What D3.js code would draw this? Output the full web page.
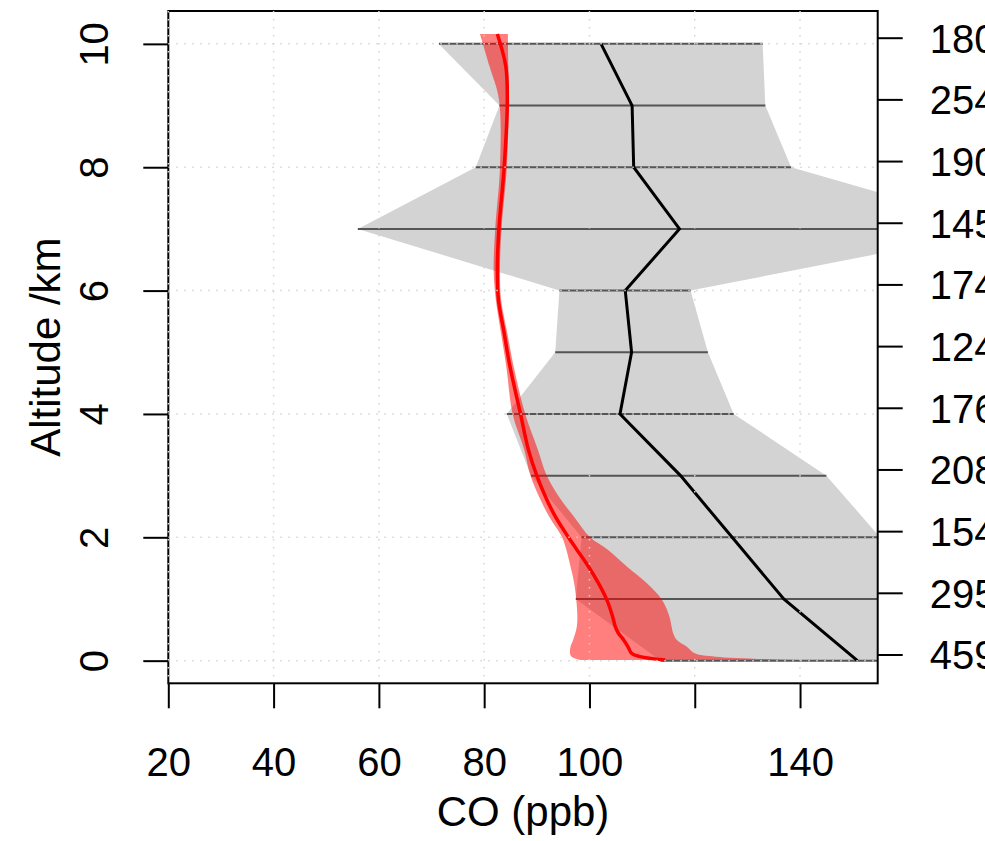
<!DOCTYPE html>
<html>
<head>
<meta charset="utf-8">
<script src="https://cdn.jsdelivr.net/npm/d3@7"></script>
<style>
html,body{margin:0;padding:0;background:#fff;}
svg{display:block;font-family:"Liberation Sans",Arial,Helvetica,sans-serif;}
</style>
</head>
<body>
<svg id="chart" width="985" height="841"></svg>
<script>
// ---- data ----
const altitudes = [0,1,2,3,4,5,6,7,8,9,10];
const sampleCounts = [459,295,154,208,176,124,174,145,190,254,180];
const grayLo = [113.5,97.4,98.5,88.9,84.3,93.5,94.3,56.0,78.4,82.9,71.4];
const grayHi = [185,175,155.2,145.0,127.4,122.5,119.2,179,138.3,133.4,132.9];
const blackMid = [150.9,136.9,127.1,117.3,105.8,108.0,106.8,117.1,108.4,108.1,102.2];

const redAlt = [0.01,0.065,0.12,0.227,0.336,0.445,0.552,0.714,0.985,1.256,1.526,1.8,2.0,2.34,2.61,3.0,3.42,4.0,4.77,5.31,5.86,6.34,7.0,8.0,9.1,9.64,10.16];
const redMid = [114.4,109.6,108.0,107.3,106.5,105.5,104.9,104.4,103.3,101.7,99.8,97.6,96.0,93.5,91.9,90.0,88.4,86.9,84.9,83.8,82.7,82.5,82.8,83.8,84.4,84.1,82.5];
const redLo  = [98.3,96.6,96.3,96.4,96.9,97.3,97.6,97.7,97.5,97.1,96.4,95.6,94.8,92.3,90.7,88.8,87.6,85.4,84.2,83.2,82.2,81.8,82.1,83.0,82.8,81.0,79.2];
const redHi  = [140,124.0,120.0,118.5,116.6,115.9,115.6,115.2,113.8,110.9,107.1,103.5,100.1,97.0,94.6,91.9,90.2,87.8,85.6,84.4,83.2,83.0,83.3,84.3,84.7,84.6,84.5];

const xTicks = [20,40,60,80,100,120,140];
const xTickLabels = ["20","40","60","80","100","","140"];
const yTicks = [0,2,4,6,8,10];
const xGrid = [20,40,60,80,100,120,140];
const yGrid = [0,2,4,6,8,10];

// ---- layout ----
const L = 168.3, R = 877.7, T = 11, B = 683.3;
const x = d3.scaleLinear().domain([20, 154.75]).range([L, R]);
const y = d3.scaleLinear().domain([-0.367, 10.533]).range([B, T]);

const svg = d3.select("#chart");
svg.append("defs").append("clipPath").attr("id","plotclip")
  .append("rect").attr("x",L).attr("y",T).attr("width",R-L).attr("height",B-T);

const g = svg.append("g").attr("clip-path","url(#plotclip)");

// gray envelope
const grayData = altitudes.map((a,i)=>({a, lo:grayLo[i], hi:grayHi[i]}));
g.append("path").datum(grayData)
  .attr("d", d3.area().y(d=>y(d.a)).x0(d=>x(d.lo)).x1(d=>x(d.hi)))
  .attr("fill","#d3d3d3");

// horizontal level lines
g.selectAll("line.lvl").data(grayData).enter().append("line")
  .attr("x1",d=>x(d.lo)).attr("x2",d=>x(d.hi))
  .attr("y1",d=>y(d.a)).attr("y2",d=>y(d.a))
  .attr("stroke","#555").attr("stroke-width",2);

// red band
const redData = redAlt.map((a,i)=>({a, lo:redLo[i], mid:redMid[i], hi:redHi[i]}));
g.append("path").datum(redData)
  .attr("d", d3.area().y(d=>y(d.a)).x0(d=>x(d.lo)).x1(d=>x(d.hi)).curve(d3.curveCatmullRom))
  .attr("fill","rgba(255,0,0,0.5)");

// black line
g.append("path").datum(grayData.map((d,i)=>({a:d.a, v:blackMid[i]})))
  .attr("d", d3.line().y(d=>y(d.a)).x(d=>x(d.v)))
  .attr("fill","none").attr("stroke","#000").attr("stroke-width",3);

// red line
g.append("path").datum(redData)
  .attr("d", d3.line().y(d=>y(d.a)).x(d=>x(d.mid)).curve(d3.curveCatmullRom))
  .attr("fill","none").attr("stroke","#ff0000").attr("stroke-width",3.5);

// box
svg.append("rect").attr("x",L).attr("y",T).attr("width",R-L).attr("height",B-T)
  .attr("fill","none").attr("stroke","#000").attr("stroke-width",2);

// grid (drawn on top, dotted lightgray)
const grid = svg.append("g");
grid.selectAll("line.gx").data(xGrid).enter().append("line")
  .attr("x1",d=>x(d)).attr("x2",d=>x(d)).attr("y1",T).attr("y2",B)
  .attr("stroke","#d3d3d3").attr("stroke-width",1.5).attr("stroke-dasharray","1.5,6.5");
grid.selectAll("line.gy").data(yGrid).enter().append("line")
  .attr("x1",L).attr("x2",R).attr("y1",d=>y(d)).attr("y2",d=>y(d))
  .attr("stroke","#d3d3d3").attr("stroke-width",1.5).attr("stroke-dasharray","1.5,6.5");

// axes
const fs = 40;
const xAxis = d3.axisBottom(x).tickValues(xTicks).tickSize(25).tickPadding(0)
  .tickFormat((d,i)=>xTickLabels[i]);
const gx = svg.append("g").attr("transform",`translate(0,${B})`).call(xAxis);
gx.select(".domain").remove();
gx.selectAll(".tick line").attr("stroke","#000").attr("stroke-width",2);
gx.selectAll(".tick text").attr("y",93).attr("dy",null).attr("font-size",fs).attr("fill","#000")
  .attr("font-family","Liberation Sans, Arial, sans-serif");

const yAxis = d3.axisLeft(y).tickValues(yTicks).tickSize(25).tickFormat(d3.format("d"));
const gy = svg.append("g").attr("transform",`translate(${L},0)`).call(yAxis);
gy.select(".domain").remove();
gy.selectAll(".tick line").attr("stroke","#000").attr("stroke-width",2);
gy.selectAll(".tick text").attr("x",null).attr("dy",null)
  .attr("transform","translate(-60,0) rotate(-90)")
  .attr("text-anchor","middle").attr("font-size",fs).attr("fill","#000")
  .attr("font-family","Liberation Sans, Arial, sans-serif");

// right axis: sample counts (slightly offset)
const yR = d3.scaleLinear().domain([-0.367-0.1, 10.533-0.1]).range([B, T]);
const rAxis = d3.axisRight(yR).tickValues(altitudes).tickSize(25).tickPadding(27)
  .tickFormat((d,i)=>sampleCounts[i]);
const gr = svg.append("g").attr("transform",`translate(${R},0)`).call(rAxis);
gr.select(".domain").remove();
gr.selectAll(".tick line").attr("stroke","#000").attr("stroke-width",2);
gr.selectAll(".tick text").attr("font-size",fs).attr("fill","#000").attr("dy","0.36em")
  .attr("font-family","Liberation Sans, Arial, sans-serif");

// titles
svg.append("text").attr("x",(L+R)/2).attr("y",826).attr("text-anchor","middle")
  .attr("font-size",42).text("CO (ppb)");
svg.append("text").attr("transform",`translate(60,${(T+B)/2}) rotate(-90)`)
  .attr("text-anchor","middle").attr("font-size",42).text("Altitude /km");
</script>
</body>
</html>
